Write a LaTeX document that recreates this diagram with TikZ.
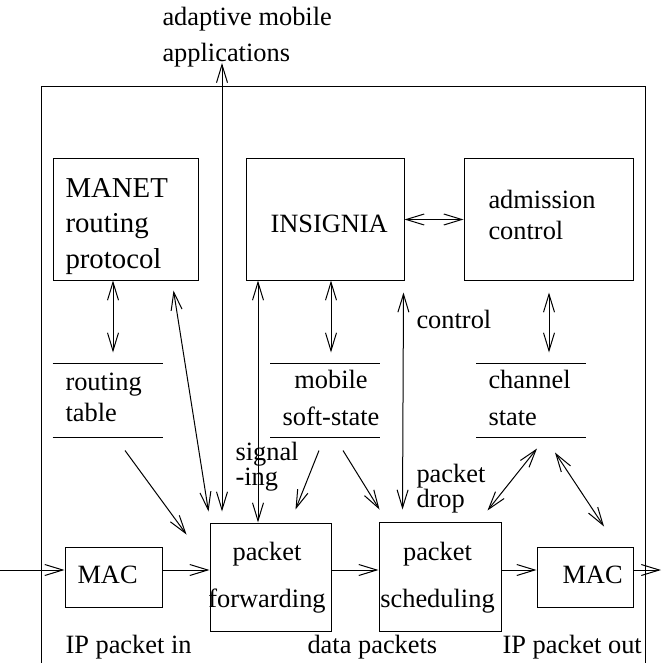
\documentclass[tikz,border=0pt]{standalone}
\usepackage{fontspec}
\setmainfont{Liberation Serif}
\usetikzlibrary{arrows.meta}

\tikzset{
  box/.style={draw, inner sep=0pt},
  store/.style={inner sep=0pt, minimum width=109pt, minimum height=73pt},
  lbl/.style={inner sep=0pt, anchor=base west, align=left, font=\fontsize{26.4}{#1}\selectfont},
  lbl/.default=31,
}

\begin{document}
\begin{tikzpicture}[x=1pt, y=-1pt, line width=1pt, >={Straight Barb[length=18pt,width=11pt]}]

\useasboundingbox (0,0) rectangle (661,663);

% router
\draw (41,670) -- (41,87) -- (645,87) -- (645,670);

\node[box, minimum width=145pt, minimum height=121pt] (manet) at (125.5,219.5) {};
\node[box, minimum width=158pt, minimum height=121pt] (insignia) at (325,219.5) {};
\node[box, minimum width=169pt, minimum height=121pt] (adm) at (548.5,219.5) {};

\node[store] (rtab) at (107.5,400.5) {};
\node[store] (mss) at (325,400.5) {};
\node[store] (chan) at (531,400.5) {};
\foreach \s in {rtab,mss,chan}{
  \draw (\s.north west) -- (\s.north east);
  \draw (\s.south west) -- (\s.south east);
}

\node[box, minimum width=97pt, minimum height=60pt] (macin) at (113.5,577) {};
\node[box, minimum width=121pt, minimum height=108pt] (fwd) at (270.5,577) {};
\node[box, minimum width=122pt, minimum height=109pt] (sched) at (440,576.5) {};
\node[box, minimum width=96pt, minimum height=60pt] (macout) at (585,577) {};

\coordinate (inport) at (0,570);
\coordinate (outport) at (661,570);
\coordinate (appl) at (222,63);

% data path
\draw[->] (inport) -- (inport -| macin.west);
\draw[->] (macin.east |- inport) -- (fwd.west |- inport);
\draw[->] (fwd.east |- inport) -- (sched.west |- inport);
\draw[->] (sched.east |- inport) -- (macout.west |- inport);
\draw[->] (macout.east |- inport) -- (outport);

% control path
\draw[<->] (appl) -- ([xshift=-48.5pt,yshift=11pt]fwd.north);
\draw[<->] (insignia.east) -- (adm.west);
\draw[<->] ([xshift=-12.5pt]manet.south) -- ([xshift=5.5pt,yshift=11pt]rtab.north);
\draw[<->] ([xshift=6pt]insignia.south) -- ([xshift=6pt,yshift=11pt]mss.north);
\draw[<->] ([xshift=0.5pt,yshift=-12pt]adm.south) -- ([xshift=18pt,yshift=11pt]chan.north);
\draw[<->] ([xshift=-25pt,yshift=-10pt]manet.south east) -- ([xshift=-1pt,yshift=11pt]fwd.north west);
\draw[<->] ([xshift=-67pt]insignia.south) -- ([xshift=-12.5pt]fwd.north);
\draw[<->] ([xshift=-1pt,yshift=-12pt]insignia.south east) -- ([xshift=24pt,yshift=12pt]sched.north west);
\draw[->] ([xshift=17.5pt,yshift=-13pt]rtab.south) -- ([xshift=-23pt,yshift=-12pt]fwd.north west);
\draw[->] ([xshift=-6pt,yshift=-13pt]mss.south) -- ([xshift=-36pt,yshift=13pt]fwd.north east);
\draw[->] ([xshift=18pt,yshift=-13pt]mss.south) -- ([xshift=1pt,yshift=12pt]sched.north west);
\draw[<->] ([xshift=6pt,yshift=-11pt]chan.south) -- ([xshift=-14pt,yshift=11pt]sched.north east);
\draw[<->] ([xshift=24pt,yshift=-15pt]chan.south) -- ([xshift=19pt,yshift=20pt]macout.north);

% texts (base = last line)
\node[lbl=36] (apptext) at (162,62) {adaptive mobile\\applications};
\node[lbl, font=\fontsize{28.8}{35.5}\selectfont] (manettext) at (65,268) {MANET\\routing\\protocol};
\node[lbl] (instext) at (270,232) {INSIGNIA};
\node[lbl] (admtext) at (488,239) {admission\\control};
\node[lbl] (rtabtext) at (65,421) {routing\\table};
\node[lbl=37, anchor=base, align=center] (msstext) at (331,425) {mobile\\soft-state};
\node[lbl=37] (chantext) at (488,425) {channel\\state};
\node[lbl=25] (sigtext) at (235,485) {signal\\-ing};
\node[lbl] (ctltext) at (416,328) {control};
\node[lbl=22] (droptext) at (416,507) {packet\\drop};
\node[lbl=47, anchor=base, align=center] (fwdtext) at (267,607) {packet\\forwarding};
\node[lbl=47, anchor=base, align=center] (schedtext) at (437.5,607) {packet\\scheduling};
\node[lbl] (macintext) at (77,583) {MAC};
\node[lbl] (macouttext) at (562,583) {MAC};
\node[lbl] (intext) at (65,653) {IP packet in};
\node[lbl] (datatext) at (307,653) {data packets};
\node[lbl] (outtext) at (502,653) {IP packet out};

\end{tikzpicture}
\end{document}
